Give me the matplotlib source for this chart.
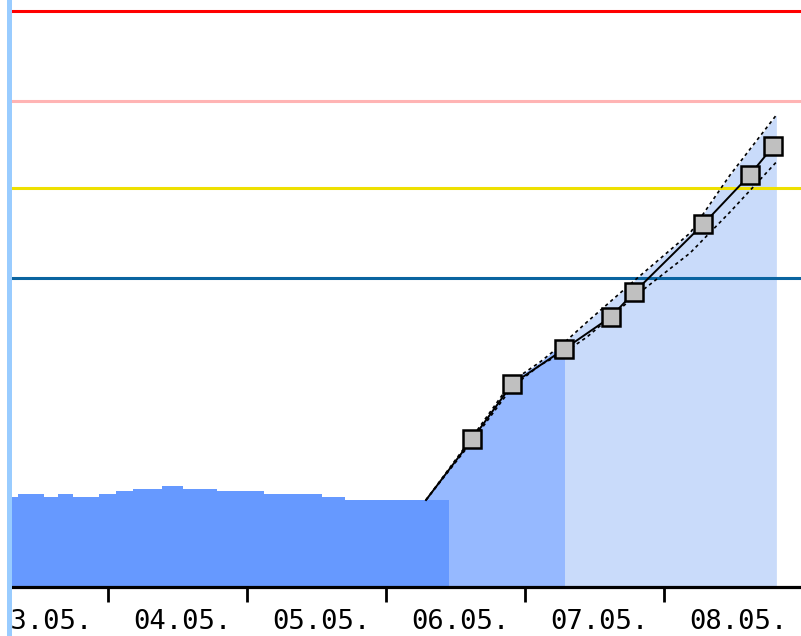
import matplotlib
matplotlib.use("Agg")
import matplotlib.pyplot as plt
from matplotlib.patches import Rectangle
from matplotlib.ticker import FixedLocator, NullFormatter, FixedFormatter

# ---- data (time in hours since 03.05. 00:00, level in chart units) ----
hist_hours = [6, 8.4, 13.0, 15.4, 18.0, 22.5, 25.4, 28.3, 33.3, 37.0, 42.8, 50.9, 61.0, 64.9, 82.9]
hist_level = [90, 93, 90, 93, 90, 93, 96, 98, 101, 98, 96, 93, 90, 87, 87]

fc_hours = [78.9, 86.9, 93.8, 102.8, 110.8, 114.9, 126.8, 134.8, 138.9]
fc_level = [87, 148, 203, 238, 270, 295, 363, 412, 441]
marker_hours = fc_hours[1:]
marker_level = fc_level[1:]

up_hours = [78.9, 86.9, 93.8, 98.6, 102.9, 106.7, 114.8, 124.5, 131.4, 139.4]
up_level = [87, 150, 206, 225, 245, 265, 306, 354, 412, 472]
lo_hours = [78.9, 86.9, 93.8, 98.6, 102.9, 106.7, 114.8, 124.5, 131.4, 139.4]
lo_level = [87, 146, 200, 222, 235, 250, 290, 334, 375, 425]

fc1_end = 102.9     # end of first forecast band
fc2_end = 139.4     # end of second forecast band

thresholds = [576, 486, 399, 309]
threshold_colors = ["#ff0000", "#ffb4b4", "#eee000", "#0a64a0"]

day_ticks = [24, 48, 72, 96, 120, 144]
day_label_pos = [12.9, 36.9, 60.9, 84.9, 108.9, 132.9]
day_labels = ["03.05.", "04.05.", "05.05.", "06.05.", "07.05.", "08.05."]

# ---- figure ----
W, H = 801, 636
fig = plt.figure(figsize=(W / 100, H / 100), dpi=100)
fig.patch.set_facecolor("white")
ax = fig.add_axes([12 / W, 49 / H, (W - 12) / W, 587 / H])
ax.set_xlim(7.42, 143.65)
ax.set_ylim(0, 587)

# forecast fills (under the upper envelope)
f1 = ax.fill_between(up_hours, up_level, 0, color="#96b9ff", lw=0, zorder=1)
f1.set_clip_path(Rectangle((0, 0), fc1_end, 1000, transform=ax.transData))
f2 = ax.fill_between(up_hours, up_level, 0, color="#c9dbfa", lw=0, zorder=1)
f2.set_clip_path(Rectangle((fc1_end, 0), fc2_end - fc1_end, 1000, transform=ax.transData))

# measured history
ax.fill_between(hist_hours, hist_level, 0, step="post", color="#6699ff", lw=0, zorder=2)

# thresholds
for v, c in zip(thresholds, threshold_colors):
    ax.axhline(v, color=c, lw=2.2, zorder=3)

# envelope and forecast line
ax.plot(up_hours, up_level, color="black", lw=1.2, ls=(0, (2, 2)), zorder=4)
ax.plot(lo_hours, lo_level, color="black", lw=1.2, ls=(0, (2, 2)), zorder=4)
ax.plot(fc_hours, fc_level, color="black", lw=1.4, zorder=4)
ax.plot(marker_hours, marker_level, ls="none", marker="s", ms=13.5, mew=1.8,
        mfc="#c0c0c0", mec="black", zorder=5)

# axes styling
for s in ["top", "right", "left"]:
    ax.spines[s].set_visible(False)
ax.spines["bottom"].set_linewidth(2.3)
ax.spines["bottom"].set_color("black")
ax.set_yticks([])
ax.xaxis.set_major_locator(FixedLocator(day_ticks))
ax.xaxis.set_major_formatter(NullFormatter())
ax.xaxis.set_minor_locator(FixedLocator(day_label_pos))
ax.xaxis.set_minor_formatter(FixedFormatter(day_labels))
ax.tick_params(axis="x", which="major", direction="out", length=11, width=2, color="black")
ax.tick_params(axis="x", which="minor", length=0, pad=15.5, labelsize=19.5)
for lab in ax.xaxis.get_minorticklabels():
    lab.set_fontfamily("DejaVu Sans Mono")

# left strip
fig.patches.append(Rectangle((0, 0), 7 / W, 1, transform=fig.transFigure,
                             facecolor="white", edgecolor="none", zorder=10))
fig.patches.append(Rectangle((7 / W, 0), 5 / W, 1, transform=fig.transFigure,
                             facecolor="#99ccff", edgecolor="none", zorder=11))

fig.savefig("out.png", dpi=100)
